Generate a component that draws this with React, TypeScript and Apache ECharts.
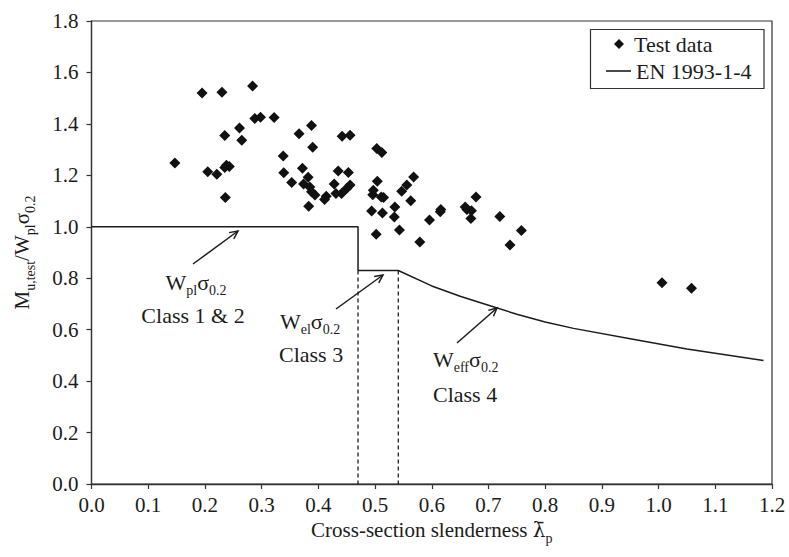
import React, { useEffect, useRef } from "react";
import * as echarts from "echarts";

// Test results: cross-section slenderness vs. normalised ultimate moment
const testSlenderness = [
  0.147, 0.195, 0.23, 0.284, 0.288, 0.298, 0.322, 0.261, 0.235, 0.265, 0.366, 0.388, 0.39, 0.338,
  0.205, 0.221, 0.238, 0.243, 0.235, 0.236, 0.339, 0.353, 0.372, 0.382, 0.374, 0.385, 0.388, 0.394,
  0.414, 0.411, 0.383, 0.435, 0.453, 0.428, 0.456, 0.45, 0.441, 0.431, 0.442, 0.456, 0.503, 0.512,
  0.504, 0.497, 0.496, 0.511, 0.515, 0.568, 0.556, 0.547, 0.563, 0.494, 0.513, 0.535, 0.534, 0.502,
  0.543, 0.579, 0.596, 0.616, 0.615, 0.678, 0.659, 0.662, 0.67, 0.669, 0.72, 0.758, 0.738, 1.006,
  1.058,
];
const testRatio = [
  1.248, 1.52, 1.523, 1.547, 1.421, 1.426, 1.425, 1.384, 1.355, 1.336, 1.362, 1.394, 1.309, 1.275,
  1.214, 1.204, 1.239, 1.234, 1.23, 1.114, 1.21, 1.172, 1.228, 1.193, 1.166, 1.155, 1.136, 1.124,
  1.119, 1.106, 1.08, 1.217, 1.211, 1.166, 1.162, 1.149, 1.129, 1.129, 1.352, 1.356, 1.304, 1.289,
  1.177, 1.142, 1.125, 1.116, 1.114, 1.194, 1.162, 1.138, 1.101, 1.061, 1.054, 1.077, 1.038, 0.971,
  0.987, 0.941, 1.026, 1.067, 1.058, 1.116, 1.077, 1.067, 1.062, 1.032, 1.04, 0.986, 0.929, 0.782,
  0.761,
];

// EN 1993-1-4 design resistance curve
const enSlenderness = [0, 0.47, 0.47, 0.541, 0.6, 0.65, 0.7, 0.75, 0.8, 0.85, 0.95, 1.05, 1.185];
const enRatio = [1.0, 1.0, 0.83, 0.83, 0.77, 0.73, 0.695, 0.66, 0.63, 0.605, 0.565, 0.525, 0.48];

// Class limits (Class 2/3 and Class 3/4)
const classLimits = [0.47, 0.541];
const classLimitTop = 0.83;

const xMin = 0;
const xMax = 1.2;
const xStep = 0.1;
const yMin = 0;
const yMax = 1.8;
const yStep = 0.2;

const FONT = "'Liberation Serif', 'Times New Roman', serif";
const INK = "#1c1c1c";

function subRich(size: number) {
  return {
    m: { fontFamily: FONT, fontSize: size, color: INK, lineHeight: 26, verticalAlign: "top" },
    s: { fontFamily: FONT, fontSize: Math.round(size * 0.65), color: INK, lineHeight: 14, verticalAlign: "bottom" },
    lam: { fontFamily: "'DejaVu Serif', serif", fontSize: size - 1, color: INK, lineHeight: 26, verticalAlign: "top" },
  };
}

function arrow(x1: number, y1: number, x2: number, y2: number) {
  const ang = Math.atan2(y2 - y1, x2 - x1);
  const len = 9;
  const spread = 0.45;
  const p1 = [x2 - len * Math.cos(ang - spread), y2 - len * Math.sin(ang - spread)];
  const p2 = [x2 - len * Math.cos(ang + spread), y2 - len * Math.sin(ang + spread)];
  return {
    type: "group",
    children: [
      { type: "line", shape: { x1, y1, x2, y2 }, style: { stroke: INK, lineWidth: 1.5 } },
      { type: "polyline", shape: { points: [p1, [x2, y2], p2] }, style: { stroke: INK, lineWidth: 1.5, fill: null } },
    ],
  };
}

function label(text: string, x: number, y: number, align: string) {
  return {
    type: "text",
    x,
    y,
    style: {
      text,
      align,
      verticalAlign: "middle",
      fontFamily: FONT,
      fontSize: 22,
      fill: INK,
      rich: subRich(22),
    },
  };
}

export default function App() {
  const ref = useRef<HTMLDivElement>(null);

  useEffect(() => {
    const chart = echarts.init(ref.current!, null, { renderer: "svg" });
    const testData = testSlenderness.map((x, i) => [x, testRatio[i]]);
    const enData = enSlenderness.map((x, i) => [x, enRatio[i]]);

    const option: any = {
      animation: false,
      backgroundColor: "#fff",
      grid: {
        left: 91.5,
        right: 17,
        top: 21,
        bottom: 73,
        show: true,
        borderColor: "#333",
        borderWidth: 1.2,
        containLabel: false,
      },
      xAxis: {
        type: "value",
        min: xMin,
        max: xMax,
        interval: xStep,
        name: "{m|Cross-section slenderness }{lam|λ̄}{s|p}",
        nameLocation: "middle",
        nameGap: 35,
        nameTextStyle: {
          fontFamily: FONT,
          fontSize: 21,
          color: INK,
          rich: subRich(21),
        },
        axisLine: { lineStyle: { color: "#333", width: 1.3 } },
        axisTick: { inside: false, length: 5, lineStyle: { color: "#333", width: 1.2 } },
        axisLabel: {
          fontFamily: FONT,
          fontSize: 21,
          color: INK,
          margin: 10,
          formatter: (v: number) => v.toFixed(1),
        },
        splitLine: { show: false },
      },
      yAxis: {
        type: "value",
        min: yMin,
        max: yMax,
        interval: yStep,
        name: "{m|M}{s|u,test}{m|/W}{s|pl}{m|σ}{s|0.2}",
        nameLocation: "middle",
        nameRotate: 90,
        nameGap: 54,
        nameTextStyle: {
          fontFamily: FONT,
          fontSize: 21,
          color: INK,
          rich: subRich(21),
        },
        axisLine: { show: true, lineStyle: { color: "#333", width: 1.3 } },
        axisTick: { show: true, inside: false, length: 5, lineStyle: { color: "#333", width: 1.2 } },
        axisLabel: {
          fontFamily: FONT,
          fontSize: 21,
          color: INK,
          margin: 13,
          formatter: (v: number) => v.toFixed(1),
        },
        splitLine: { show: false },
      },
      legend: [
        {
          data: [{ name: "Test data", icon: "diamond" }],
          left: 614,
          top: 33,
          padding: 0,
          itemWidth: 10,
          itemHeight: 10,
          selectedMode: false,
          textStyle: { fontFamily: FONT, fontSize: 22, color: INK, padding: [0, 0, 0, 5] },
        },
        {
          data: [{ name: "EN 1993-1-4", icon: "rect" }],
          left: 606,
          top: 60,
          padding: 0,
          itemWidth: 25,
          itemHeight: 1.6,
          selectedMode: false,
          textStyle: { fontFamily: FONT, fontSize: 22, color: INK },
        },
      ],
      graphic: [
        {
          type: "rect",
          z: 1,
          shape: { x: 590.5, y: 29.5, width: 173.5, height: 59 },
          style: { fill: "#fff", stroke: "#333", lineWidth: 1.2 },
        },
        label("{m|W}{s|pl}{m|σ}{s|0.2}", 196, 284, "center"),
        label("Class 1 & 2", 193, 315, "center"),
        label("{m|W}{s|el}{m|σ}{s|0.2}", 280, 323, "left"),
        label("Class 3", 279, 354, "left"),
        label("{m|W}{s|eff}{m|σ}{s|0.2}", 433, 361, "left"),
        label("Class 4", 433, 394, "left"),
        arrow(193, 264, 238, 231),
        arrow(336, 309, 383, 275),
        arrow(457, 343, 497, 308),
      ],
      series: [
        {
          name: "EN 1993-1-4",
          type: "line",
          data: enData,
          symbol: "none",
          lineStyle: { color: INK, width: 1.5 },
          itemStyle: { color: INK },
          z: 2,
        },
        ...classLimits.map((x) => ({
          name: "limit",
          type: "line",
          data: [
            [x, classLimitTop],
            [x, yMin],
          ],
          symbol: "none",
          lineStyle: { color: INK, width: 1.3, type: [4, 3] },
          z: 2,
        })),
        {
          name: "Test data",
          type: "scatter",
          data: testData,
          symbol: "diamond",
          symbolSize: 11,
          itemStyle: { color: "#111", opacity: 1 },
          z: 3,
        },
      ],
    };

    chart.setOption(option);
    return () => chart.dispose();
  }, []);

  return (
    <div
      ref={ref}
      style={{ position: "fixed", left: 0, top: 0, width: 789, height: 557, background: "#fff" }}
    />
  );
}
